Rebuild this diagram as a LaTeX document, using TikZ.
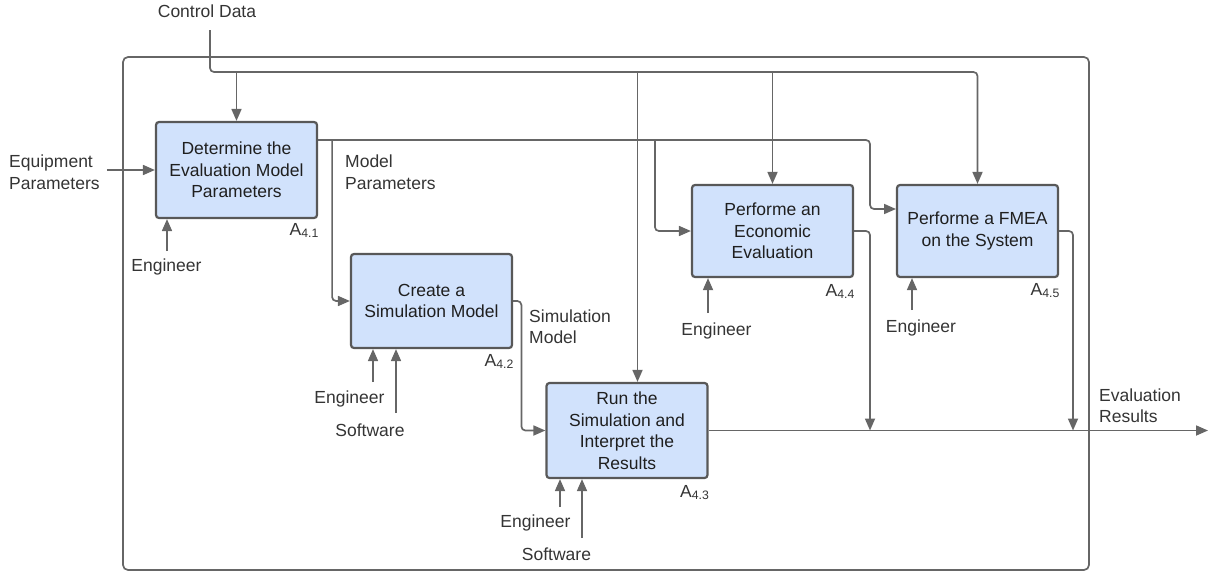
\documentclass[tikz,border=0pt]{standalone}
\usepackage{fontspec}
\setmainfont{Liberation Sans}
\usetikzlibrary{arrows.meta,positioning}

\definecolor{boxfill}{RGB}{209,226,252}
\definecolor{boxline}{RGB}{88,88,88}
\definecolor{wirecol}{RGB}{102,102,102}
\definecolor{labeltext}{RGB}{52,52,52}

\tikzset{
  actbox/.style={draw=boxline, fill=boxfill, line width=2.2pt, rounded corners=3pt,
    minimum width=161pt, minimum height=92pt, align=center, inner sep=2pt,
    text=black!88},
  flow/.style={draw=wirecol, line width=1.7pt, rounded corners=4pt,
    -{Triangle[length=12pt,width=10pt]}},
  lbl/.style={text=labeltext, inner sep=1pt, align=left},
  idx/.style={text=labeltext, inner sep=0pt, anchor=base east},
}

\begin{document}
\begin{tikzpicture}[x=1pt, y=-1pt, font=\fontsize{17.5}{21.5}\selectfont]
  \useasboundingbox (0,0) rectangle (1209,573);

  % outer frame
  \draw[draw=wirecol, line width=1.7pt, rounded corners=5pt] (123,57) rectangle (1089,570);

  % activities
  \node[actbox, minimum height=96pt] (a1) at (236.5,170) {Determine the\\Evaluation Model\\Parameters};
  \node[actbox, minimum height=94pt] (a2) at (431.5,301) {Create a\\Simulation Model};
  \node[actbox, minimum height=95pt] (a3) at (627,430.5) {Run the\\Simulation and\\Interpret the\\Results};
  \node[actbox] (a4) at (772.5,231) {Performe an\\Economic\\Evaluation};
  \node[actbox] (a5) at (977.5,231) {Performe a FMEA\\on the System};

  % activity numbers
  \node[idx] (n1) at ([xshift=1pt,yshift=-16pt]a1.south east) {A\textsubscript{4.1}};
  \node[idx] (n2) at ([xshift=1pt,yshift=-17pt]a2.south east) {A\textsubscript{4.2}};
  \node[idx] (n3) at ([xshift=1pt,yshift=-18pt]a3.south east) {A\textsubscript{4.3}};
  \node[idx] (n4) at ([xshift=1pt,yshift=-18pt]a4.south east) {A\textsubscript{4.4}};
  \node[idx] (n5) at ([xshift=1pt,yshift=-17pt]a5.south east) {A\textsubscript{4.5}};

  % labels
  \node[lbl, anchor=base] (cdata) at (207,17.5) {Control Data};
  \node[lbl, anchor=west] (eqp) at (8,172) {Equipment\\Parameters};
  \node[lbl, anchor=west] (mpar) at (344,172) {Model\\Parameters};
  \node[lbl, anchor=west] (smod) at (528,326.5) {Simulation\\Model};
  \node[lbl, anchor=west] (eres) at (1098,405.5) {Evaluation\\Results};

  \node[lbl, anchor=base] (eng1) at (166.5,271.5) {Engineer};
  \node[lbl, anchor=base] (eng2) at (349.5,403) {Engineer};
  \node[lbl, anchor=base] (sw2) at (370,436) {Software};
  \node[lbl, anchor=base] (eng3) at (535.5,527) {Engineer};
  \node[lbl, anchor=base] (sw3) at (556.5,560) {Software};
  \node[lbl, anchor=base] (eng4) at (716.5,335) {Engineer};
  \node[lbl, anchor=base] (eng5) at (921,332) {Engineer};

  % helper points
  \coordinate (ctrl) at (210,30);
  \coordinate (cbus) at (0,72);
  \coordinate (mbus) at (0,140);
  \coordinate (mjoin) at (870,0);
  \coordinate (rjoin) at (1073,0);
  \coordinate (fmeain) at (896,209);
  \coordinate (rout) at (1208,430.5);
  \coordinate (m1) at (167,251);
  \coordinate (m2a) at (373,382);
  \coordinate (m2b) at (396,413);
  \coordinate (m3a) at (560,507);
  \coordinate (m3b) at (582,538);
  \coordinate (m4) at (708,313);
  \coordinate (m5) at (912,310);

  % controls
  \draw[flow] (ctrl) |- (a5.north |- cbus) -- (a5.north);
  \draw[flow] (a1.north |- cbus) -- (a1.north);
  \draw[flow] ([xshift=10.5pt]a3.north |- cbus) -- ([xshift=10.5pt]a3.north);
  \draw[flow] (a4.north |- cbus) -- (a4.north);

  % inputs and outputs
  \draw[flow, shorten <=6pt] (eqp.east |- a1.west) -- (a1.west);
  \draw[flow] (a1.east |- mbus) -| (mjoin |- fmeain) -- (fmeain);
  \draw[flow] ([xshift=14pt]a1.east |- mbus) |- (a2.west);
  \draw[flow] ([xshift=-36pt]a4.west |- mbus) |- (a4.west);
  \draw[flow] (a2.east) -| ([xshift=-24pt]a3.west) -- (a3.west);
  \draw[flow] (a3.east) -- (rout);
  \draw[flow] (a4.east) -| (mjoin |- rout);
  \draw[flow] (a5.east) -| (rjoin |- rout);

  % mechanisms
  \draw[flow] (m1) -- (m1 |- a1.south);
  \draw[flow] (m2a) -- (m2a |- a2.south);
  \draw[flow] (m2b) -- (m2b |- a2.south);
  \draw[flow] (m3a) -- (m3a |- a3.south);
  \draw[flow] (m3b) -- (m3b |- a3.south);
  \draw[flow] (m4) -- (m4 |- a4.south);
  \draw[flow] (m5) -- (m5 |- a5.south);

\end{tikzpicture}
\end{document}
